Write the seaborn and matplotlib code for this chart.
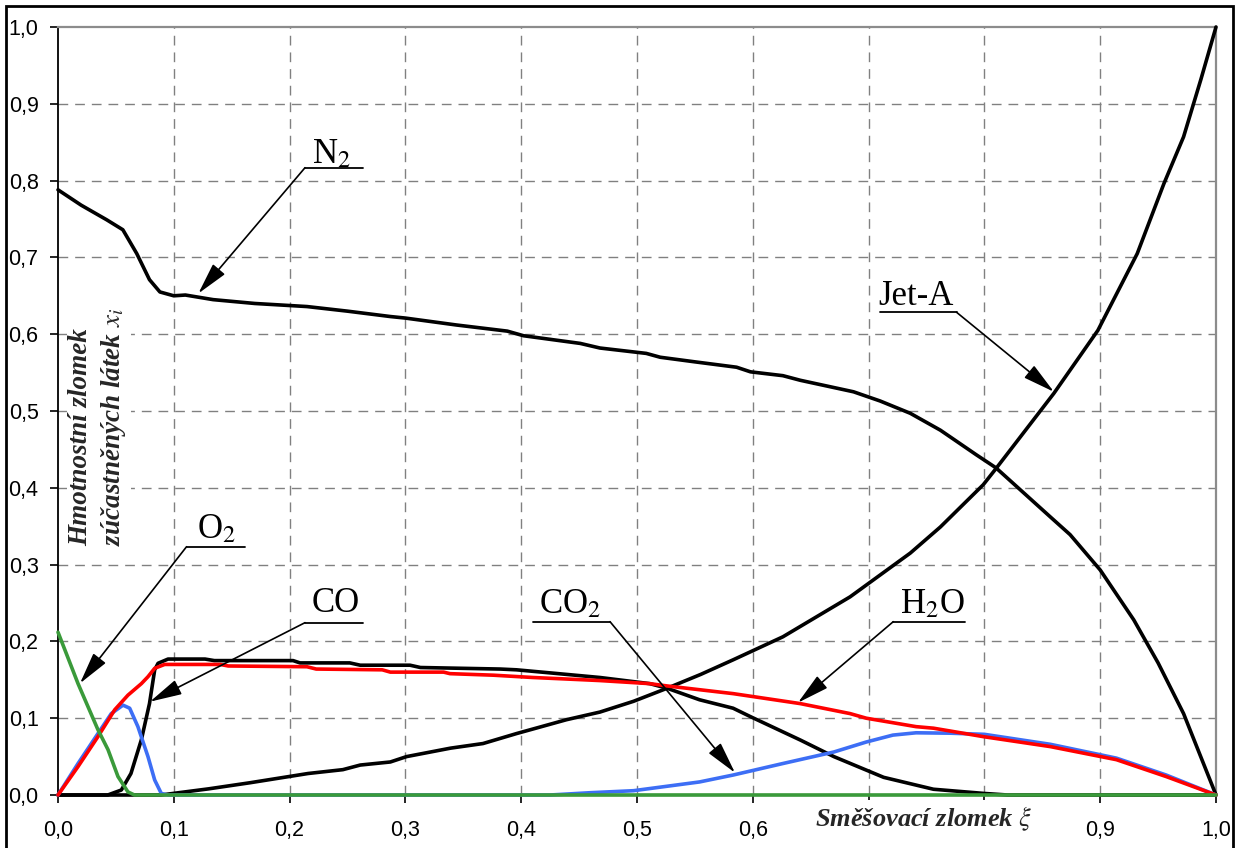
import matplotlib
matplotlib.use("Agg")
import matplotlib.pyplot as plt
import seaborn as sns
import numpy as np
import pandas as pd
from matplotlib.patches import Rectangle

# ---------------- data ----------------
n2_x = [0.0, 0.02, 0.042, 0.056, 0.068, 0.079, 0.088, 0.1, 0.11, 0.134, 0.17, 0.215, 0.25,
        0.287, 0.3, 0.344, 0.388, 0.402, 0.451, 0.468, 0.508, 0.52, 0.55, 0.586, 0.598,
        0.626, 0.641, 0.687, 0.71, 0.736, 0.762, 0.793, 0.81, 0.857, 0.874, 0.9, 0.929,
        0.95, 0.972, 1.0]
n2_y = [0.788, 0.768, 0.749, 0.736, 0.705, 0.671, 0.655, 0.650, 0.651, 0.645, 0.640, 0.636,
        0.630, 0.623, 0.621, 0.612, 0.604, 0.598, 0.588, 0.582, 0.575, 0.570, 0.564, 0.557,
        0.551, 0.546, 0.540, 0.525, 0.513, 0.497, 0.475, 0.443, 0.426, 0.362, 0.339, 0.293,
        0.228, 0.172, 0.106, 0.0]

jet_x = [0.0, 0.089, 0.13, 0.166, 0.216, 0.246, 0.261, 0.287, 0.301, 0.339, 0.367, 0.396,
         0.439, 0.468, 0.497, 0.526, 0.555, 0.583, 0.626, 0.684, 0.736, 0.762, 0.799, 0.81,
         0.86, 0.898, 0.932, 0.955, 0.972, 0.987, 1.0]
jet_y = [0.0, 0.0, 0.008, 0.016, 0.028, 0.033, 0.039, 0.043, 0.050, 0.061, 0.067, 0.080,
         0.098, 0.108, 0.122, 0.139, 0.157, 0.176, 0.206, 0.258, 0.315, 0.349, 0.404, 0.425,
         0.523, 0.605, 0.705, 0.796, 0.857, 0.932, 1.0]

co_x = [0.0, 0.043, 0.0547, 0.063, 0.072, 0.079, 0.0835, 0.0864, 0.095, 0.127, 0.135, 0.203,
        0.209, 0.252, 0.261, 0.304, 0.313, 0.382, 0.396, 0.425, 0.468, 0.511, 0.526, 0.554,
        0.583, 0.598, 0.641, 0.670, 0.713, 0.756, 0.80, 0.82, 1.0]
co_y = [0.0, 0.0, 0.0065, 0.028, 0.072, 0.119, 0.163, 0.1715, 0.177, 0.177, 0.175, 0.175,
        0.172, 0.172, 0.169, 0.169, 0.166, 0.164, 0.163, 0.159, 0.153, 0.145, 0.139, 0.124,
        0.113, 0.102, 0.0716, 0.05, 0.023, 0.0075, 0.002, 0.0, 0.0]

h2o_x = [0.0, 0.0173, 0.0345, 0.049, 0.0604, 0.072, 0.0777, 0.0835, 0.0921, 0.14, 0.147,
         0.215, 0.223, 0.28, 0.287, 0.333, 0.3385, 0.376, 0.41, 0.454, 0.468, 0.511, 0.526,
         0.583, 0.641, 0.684, 0.698, 0.741, 0.756, 0.799, 0.857, 0.914, 0.957, 1.0]
h2o_y = [0.0, 0.037, 0.076, 0.111, 0.130, 0.145, 0.154, 0.165, 0.170, 0.170, 0.168, 0.167,
         0.164, 0.163, 0.160, 0.160, 0.158, 0.156, 0.153, 0.150, 0.149, 0.145, 0.142, 0.132,
         0.119, 0.106, 0.100, 0.089, 0.087, 0.076, 0.063, 0.046, 0.024, 0.0]

co2_x = [0.0, 0.0173, 0.0345, 0.046, 0.0561, 0.0619, 0.069, 0.0777, 0.0835, 0.0892, 0.095,
         0.425, 0.46, 0.497, 0.554, 0.583, 0.626, 0.67, 0.698, 0.721, 0.741, 0.77, 0.8,
         0.857, 0.914, 0.957, 1.0]
co2_y = [0.0, 0.041, 0.080, 0.106, 0.117, 0.113, 0.089, 0.05, 0.0195, 0.002, 0.0, 0.0,
         0.003, 0.0056, 0.017, 0.026, 0.041, 0.056, 0.069, 0.078, 0.081, 0.0805, 0.079,
         0.066, 0.048, 0.026, 0.0]

o2_x = [0.0, 0.0173, 0.0345, 0.0432, 0.0518, 0.0604, 0.066, 1.0]
o2_y = [0.212, 0.145, 0.085, 0.059, 0.024, 0.004, 0.0, 0.0]

ticks = [0.0, 0.1, 0.2, 0.3, 0.4, 0.5, 0.6, 0.7, 0.8, 0.9, 1.0]
y_tick_labels = ["0,0", "0,1", "0,2", "0,3", "0,4", "0,5", "0,6", "0,7", "0,8", "0,9", "1,0"]
# the x-axis title covers the 0,7 and 0,8 labels in the reference
x_tick_labels = ["0,0", "0,1", "0,2", "0,3", "0,4", "0,5", "0,6", "", "", "0,9", "1,0"]

# label: (text, underline x0, underline x1, underline y, text x, text baseline y, arrow tip)
labels = [
    ("N$_2$",   0.2133, 0.2634, 0.8168, 0.219, 0.8225, (0.1212, 0.653)),
    ("Jet-A",   0.7098, 0.7760, 0.6285, 0.708, 0.638, (0.860, 0.525)),
    ("O$_2$",   0.1110, 0.1615, 0.3233, 0.120, 0.334, (0.019, 0.1454)),
    ("CO",      0.2133, 0.2637, 0.2244, 0.219, 0.2387, (0.0794, 0.1215)),
    ("CO$_2$",  0.4105, 0.4767, 0.2257, 0.415, 0.2366, (0.5846, 0.029)),
    ("H$_2$O",  0.7213, 0.7832, 0.2257, 0.727, 0.2366, (0.639, 0.1202)),
]
# side of the underline where the arrow starts (0 = left end, 1 = right end)
arrow_from = [0, 1, 0, 0, 1, 0]

# ---------------- styling ----------------
sns.set_theme(style="white")
plt.rcParams["font.family"] = ["Liberation Sans", "DejaVu Sans"]
plt.rcParams["mathtext.fontset"] = "stix"

fig = plt.figure(figsize=(12.36, 8.48), dpi=100)
ax = fig.add_axes([58 / 1236, 1 - 795 / 848, (1216 - 58) / 1236, (795 - 27) / 848])

grid_kw = dict(color="#808080", lw=1.0, dashes=(7, 5), zorder=0)
for t in ticks[1:-1]:
    ax.axvline(t, **grid_kw)
    ax.axhline(t, **grid_kw)

series = [
    (n2_x, n2_y, "black"),
    (jet_x, jet_y, "black"),
    (co_x, co_y, "black"),
    (co2_x, co2_y, "#3D6EF5"),
    (h2o_x, h2o_y, "#FF0000"),
    (o2_x, o2_y, "#3A9A3A"),
]
for xs, ys, col in series:
    df = pd.DataFrame({"x": xs, "y": ys})
    sns.lineplot(data=df, x="x", y="y", ax=ax, color=col, lw=2.6, sort=False,
                 estimator=None, clip_on=False, zorder=3)

ax.set_xlim(0, 1)
ax.set_ylim(0, 1)
ax.set_xticks(ticks)
ax.set_yticks(ticks)
ax.set_xticklabels(x_tick_labels)
ax.set_yticklabels(y_tick_labels)
ax.set_xlabel("")
ax.set_ylabel("")
ax.tick_params(axis="both", direction="out", length=6, width=1.2, color="black",
               labelsize=15.5, labelcolor="black", pad=8, bottom=True, left=True)
ax.tick_params(axis="x", pad=12)
for side in ["top", "right", "bottom"]:
    ax.spines[side].set_color("#8c8c8c")
    ax.spines[side].set_linewidth(1.6)
ax.spines["left"].set_color("black")
ax.spines["left"].set_linewidth(1.3)

serif = ["Liberation Serif", "DejaVu Serif"]
for (txt, u0, u1, uy, tx, ty, tip), side in zip(labels, arrow_from):
    ax.plot([u0, u1], [uy, uy], color="black", lw=1.3, zorder=4)
    start = (u0 if side == 0 else u1, uy)
    ax.annotate("", xy=tip, xytext=start,
                arrowprops=dict(arrowstyle="-|>,head_length=0.9,head_width=0.22",
                                color="black", lw=1.2, shrinkA=0, shrinkB=0,
                                mutation_scale=22), zorder=4)
    ax.text(tx, ty, txt, family=serif, fontsize=25, ha="left", va="baseline",
            color="black", zorder=4)

ax.text(0.0345, 0.324, "Hmotnostní zlomek\nzúčastněných látek $x_i$", family=serif,
        fontsize=19.5, fontweight="bold", fontstyle="italic", rotation=90,
        ha="center", va="bottom", multialignment="left", linespacing=1.3,
        bbox=dict(facecolor="white", edgecolor="none", pad=2), zorder=5)

ax.text(0.748, -0.031, "Směšovací zlomek $\\xi$", family=serif, fontsize=19,
        fontweight="bold", fontstyle="italic", ha="center", va="center",
        bbox=dict(facecolor="white", edgecolor="none", pad=3), clip_on=False, zorder=6)

fig.patches.append(Rectangle((6 / 1236, -0.01), (1233 - 6) / 1236, 1 - 6 / 848 + 0.01,
                             transform=fig.transFigure, fill=False, edgecolor="black",
                             lw=2.0))

fig.savefig("out.png", dpi=100)
